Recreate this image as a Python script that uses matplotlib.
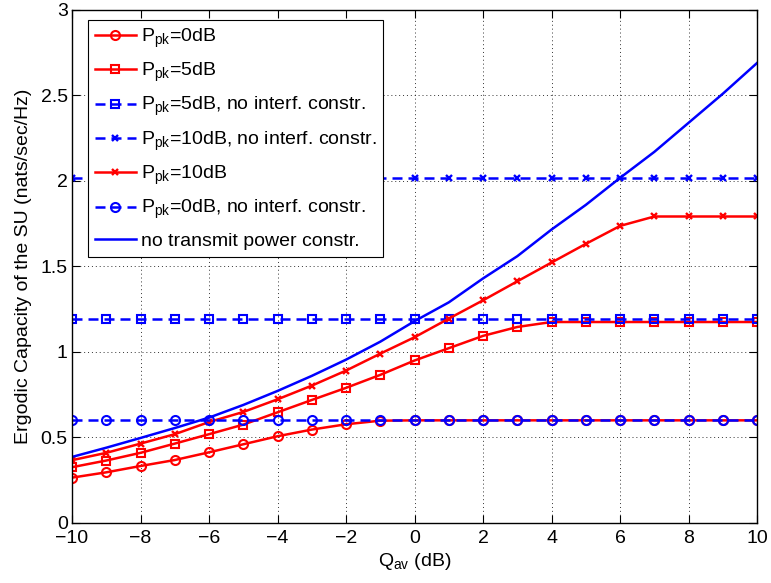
import matplotlib
matplotlib.use("Agg")
import matplotlib.pyplot as plt
from matplotlib.ticker import FixedLocator, FuncFormatter

plt.rcParams['font.family'] = ['Liberation Sans', 'DejaVu Sans']
plt.rcParams['mathtext.fontset'] = 'custom'
plt.rcParams['mathtext.rm'] = 'Liberation Sans'
plt.rcParams['mathtext.it'] = 'Liberation Sans'

q_av = list(range(-10, 11))

# capacity with interference + peak power constraints
cap_p0 = [0.265, 0.296, 0.333, 0.368, 0.413, 0.46, 0.507, 0.546, 0.577, 0.598, 0.6,
          0.6, 0.6, 0.6, 0.6, 0.6, 0.6, 0.6, 0.6, 0.6, 0.6]
cap_p5 = [0.326, 0.365, 0.41, 0.464, 0.519, 0.575, 0.647, 0.719, 0.79, 0.866, 0.95,
          1.022, 1.094, 1.146, 1.175, 1.175, 1.175, 1.175, 1.175, 1.175, 1.175]
cap_p10 = [0.367, 0.41, 0.464, 0.519, 0.59, 0.649, 0.723, 0.803, 0.891, 0.99, 1.086,
           1.195, 1.302, 1.413, 1.523, 1.632, 1.737, 1.792, 1.792, 1.792, 1.792]

# peak power only (no interference constraint)
cap_p0_nic = [0.6] * len(q_av)
cap_p5_nic = [1.195] * len(q_av)
cap_p10_nic = [2.015] * len(q_av)

# average interference only
cap_no_pk = [0.386, 0.44, 0.497, 0.555, 0.616, 0.69, 0.772, 0.86, 0.955, 1.06, 1.18,
             1.29, 1.43, 1.56, 1.716, 1.86, 2.018, 2.17, 2.34, 2.51, 2.69]

fig = plt.figure(figsize=(7.71, 5.83), dpi=100)
ax = fig.add_axes([0.0934, 0.103, 0.8886, 0.880])

lw = 1.8
dash = (4.0, 2.4)
circ = dict(marker='o', ms=6.5, mfc='none', mew=1.5)
sq = dict(marker='s', ms=6, mfc='none', mew=1.5)
cross = dict(marker='x', ms=5, mew=1.7)

ax.plot(q_av, cap_p0, color='red', lw=lw, label='P$_{pk}$=0dB', **circ)
ax.plot(q_av, cap_p5, color='red', lw=lw, label='P$_{pk}$=5dB', **sq)
ax.plot(q_av, cap_p5_nic, color='blue', lw=lw, ls='--', dashes=dash,
        label='P$_{pk}$=5dB, no interf. constr.', **sq)
ax.plot(q_av, cap_p10_nic, color='blue', lw=lw, ls='--', dashes=dash,
        label='P$_{pk}$=10dB, no interf. constr.', **cross)
ax.plot(q_av, cap_p10, color='red', lw=lw, label='P$_{pk}$=10dB', **cross)
ax.plot(q_av, cap_p0_nic, color='blue', lw=lw, ls='--', dashes=dash,
        label='P$_{pk}$=0dB, no interf. constr.', **circ)
ax.plot(q_av, cap_no_pk, color='blue', lw=lw, label='no transmit power constr.')

ax.set_xlim(-10, 10)
ax.set_ylim(0, 3)
ax.xaxis.set_major_locator(FixedLocator(range(-10, 11, 2)))
ax.yaxis.set_major_locator(FixedLocator([0, 0.5, 1, 1.5, 2, 2.5, 3]))
ax.yaxis.set_major_formatter(FuncFormatter(lambda v, p: '%g' % v))
ax.tick_params(direction='in', top=True, right=True, length=6, width=0.8,
               labelsize=14)
ax.tick_params(axis='x', pad=5)
ax.tick_params(axis='y', pad=3)
ax.grid(True, ls=(0, (1, 3)), color='black', lw=0.7, alpha=0.8)
for s in ax.spines.values():
    s.set_linewidth(1.0)

ax.set_xlabel('Q$_{av}$ (dB)', fontsize=14, labelpad=3)
ax.set_ylabel('Ergodic Capacity of the SU (nats/sec/Hz)', fontsize=14, labelpad=6)

leg = ax.legend(loc='upper left', bbox_to_anchor=(0.0234, 0.9805), fontsize=14,
                frameon=True, fancybox=False, edgecolor='black', framealpha=1,
                handlelength=2.1, handletextpad=0.25, labelspacing=0.57,
                borderpad=0.35, borderaxespad=0)
leg.get_frame().set_linewidth(0.8)

fig.savefig('out.png', dpi=100)
